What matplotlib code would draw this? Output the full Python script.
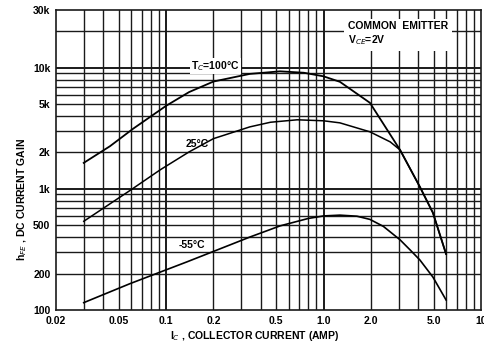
import numpy as np
import matplotlib
matplotlib.use("Agg")
import matplotlib.pyplot as plt
from matplotlib.ticker import FixedLocator, NullFormatter

plt.rcParams['font.family'] = ['Liberation Sans Narrow', 'Liberation Sans', 'DejaVu Sans']

# values (Ic in amps, hFE)
ic_100 = [0.03, 0.044, 0.062, 0.1, 0.14, 0.2, 0.34, 0.53, 0.75, 1.0, 1.27, 1.97, 3.06, 4.09, 4.95, 6.0]
hfe_100 = [1640, 2250, 3150, 4850, 6300, 7700, 8900, 9350, 9100, 8500, 7660, 5140, 2100, 1040, 635, 290]

ic_25 = [0.03, 0.059, 0.092, 0.14, 0.2, 0.34, 0.46, 0.68, 1.0, 1.27, 1.97, 2.65, 3.06, 4.09, 4.95, 6.0]
hfe_25 = [540, 970, 1440, 2020, 2600, 3250, 3550, 3720, 3650, 3510, 2960, 2445, 2100, 1040, 635, 290]

ic_m55 = [0.03, 0.059, 0.136, 0.255, 0.34, 0.53, 0.8, 1.0, 1.27, 1.63, 1.97, 2.4, 3.06, 3.55, 4.09, 4.95, 6.0]
hfe_m55 = [115, 165, 250, 345, 400, 495, 570, 598, 607, 595, 560, 490, 380, 313, 259, 187, 121]

xticks = [0.02, 0.05, 0.1, 0.2, 0.5, 1.0, 2.0, 5.0, 10]
xlabels = ['0.02', '0.05', '0.1', '0.2', '0.5', '1.0', '2.0', '5.0', '10']
yticks = [100, 200, 500, 1000, 2000, 5000, 10000, 30000]
ylabels = ['100', '200', '500', '1k', '2k', '5k', '10k', '30k']

fig = plt.figure(figsize=(4.84, 3.48), dpi=100)
ax = fig.add_axes([56/484, 1-310/348, 425/484, 300/348])
ax.set_xscale('log')
ax.set_yscale('log')
ax.set_xlim(0.02, 10)
ax.set_ylim(100, 30000)

# grid: every log line, decades slightly heavier
xmin = [m*10.0**e for e in range(-2, 1) for m in range(1, 10)]
xmin = [v for v in xmin if 0.02 < v < 10]
ymin = [m*10.0**e for e in range(2, 5) for m in range(1, 10)]
ymin = [v for v in ymin if 100 < v < 30000]
for v in xmin:
    ax.axvline(v, color='#1a1a1a', lw=1.4 if v in (0.1, 1.0) else 1.0, zorder=1)
for v in ymin:
    ax.axhline(v, color='#1a1a1a', lw=1.4 if v in (1000, 10000) else 1.0, zorder=1)

ax.plot(ic_100, hfe_100, color='black', lw=1.3, zorder=3)
ax.plot(ic_25, hfe_25, color='black', lw=1.1, zorder=3)
ax.plot(ic_m55, hfe_m55, color='black', lw=1.2, zorder=3)

for s in ax.spines.values():
    s.set_color('#1a1a1a')
    s.set_linewidth(1.2)

ax.xaxis.set_major_locator(FixedLocator(xticks))
ax.set_xticklabels(xlabels)
ax.xaxis.set_minor_formatter(NullFormatter())
ax.yaxis.set_major_locator(FixedLocator(yticks))
ax.set_yticklabels(ylabels)
ax.yaxis.set_minor_formatter(NullFormatter())
ax.tick_params(which='both', length=0, labelsize=7.5, pad=4)
for t in ax.get_xticklabels() + ax.get_yticklabels():
    t.set_fontweight('bold')

box = dict(facecolor='white', edgecolor='none', pad=1.0)
ax.text(0.205, 10300, 'T$_C$=100°C', fontsize=7.5, fontweight='bold', ha='center', va='center', bbox=box, zorder=2)
ax.text(0.157, 2360, '25°C', fontsize=7.5, fontweight='bold', ha='center', va='center', bbox=box, zorder=2)
ax.text(0.146, 345, '-55°C', fontsize=7.5, fontweight='bold', ha='center', va='center', bbox=box, zorder=2)
ax.text(1.43, 19000, 'COMMON  EMITTER\nV$_{CE}$=2V   ', fontsize=7.5, fontweight='bold',
        ha='left', va='center', linespacing=1.2, zorder=4,
        bbox=dict(facecolor='white', edgecolor='none', pad=3.0))

fig.text(255/484, 1-336/348, 'I$_C$ , COLLECTOR CURRENT (AMP)', fontsize=7.5, fontweight='bold',
         ha='center', va='center')
fig.text(22/484, 1-200/348, 'h$_{FE}$ , DC CURRENT GAIN', fontsize=7.5, fontweight='bold',
         ha='center', va='center', rotation=90)

fig.savefig('out.png', dpi=100)
